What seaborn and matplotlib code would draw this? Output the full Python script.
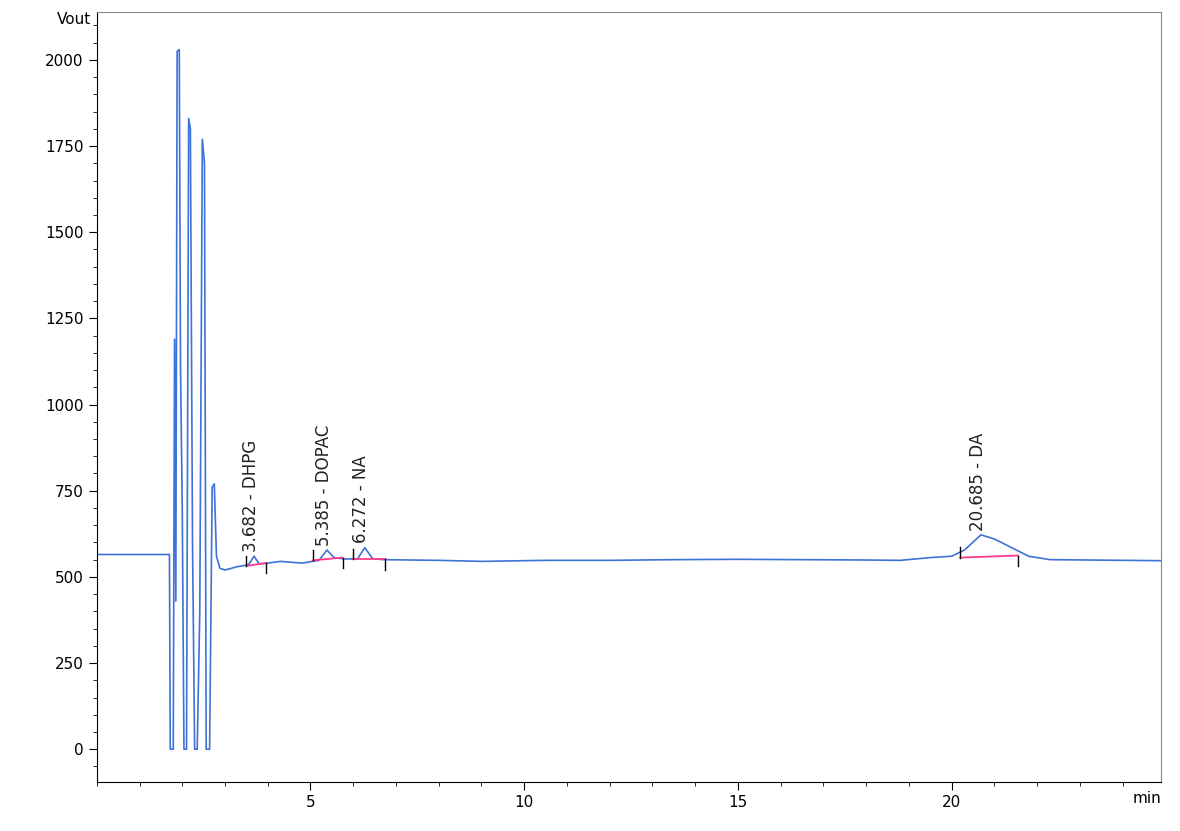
import matplotlib
matplotlib.use("Agg")
import matplotlib.pyplot as plt
import seaborn as sns
import pandas as pd
from matplotlib.ticker import MultipleLocator

# --- DATA ---
time_min = [0.0, 1.70, 1.72, 1.79, 1.82, 1.85, 1.88, 1.93, 1.96, 2.00, 2.04, 2.10,
            2.15, 2.19, 2.24, 2.29, 2.35, 2.41, 2.47, 2.52, 2.56, 2.64, 2.70, 2.75,
            2.80, 2.88, 3.00, 3.30, 3.55, 3.68, 3.80, 4.00, 4.30, 4.80, 5.20, 5.385,
            5.55, 5.80, 6.10, 6.272, 6.45, 6.70, 8.0, 9.0, 10.5, 12.0, 13.5, 15.0,
            16.5, 18.0, 18.8, 19.5, 20.0, 20.3, 20.685, 21.0, 21.4, 21.8, 22.3, 24.9]
signal = [565, 565, 0, 0, 1190, 430, 2025, 2030, 1100, 700, 0, 0,
          1830, 1800, 600, 0, 0, 400, 1770, 1700, 0, 0, 760, 770,
          560, 525, 520, 530, 535, 560, 538, 540, 545, 540, 548, 578,
          556, 552, 552, 585, 553, 550, 548, 545, 548, 548, 550, 551,
          550, 549, 548, 556, 560, 578, 622, 610, 585, 560, 550, 547]

peak_rt = [3.682, 5.385, 6.272, 20.685]
peak_name = ["DHPG", "DOPAC", "NA", "DA"]
peak_top = [560, 578, 585, 622]
base_start = [3.50, 5.05, 6.00, 20.20]
base_end = [3.95, 5.75, 6.75, 21.55]
base_lvl_start = [532, 548, 551, 556]
base_lvl_end = [540, 556, 551, 562]

df = pd.DataFrame({"min": time_min, "Vout": signal})

fig = plt.figure(figsize=(11.8, 8.31), dpi=100)
ax = fig.add_axes([0.082, 0.059, 0.902, 0.927])
sns.lineplot(data=df, x="min", y="Vout", ax=ax, color="#3d72d6", linewidth=1.2)

# integration baselines and markers
for i in range(len(peak_rt)):
    ax.plot([base_start[i], base_end[i]], [base_lvl_start[i], base_lvl_end[i]],
            color="#ff3a8c", linewidth=1.3)
    ax.plot([base_start[i]] * 2, [base_lvl_start[i], base_lvl_start[i] + 30], color="black", lw=1)
    ax.plot([base_end[i]] * 2, [base_lvl_end[i], base_lvl_end[i] - 30], color="black", lw=1)
    ax.text(peak_rt[i] - 0.08, peak_top[i] + 12, f"{peak_rt[i]:.3f} - {peak_name[i]}",
            rotation=90, ha="center", va="bottom", fontsize=12, color="#222222")

ax.set_xlim(0, 24.9)
ax.set_ylim(-95, 2140)
ax.set_xticks([5, 10, 15, 20])
ax.set_yticks(range(0, 2001, 250))
ax.xaxis.set_minor_locator(MultipleLocator(1))
ax.yaxis.set_minor_locator(MultipleLocator(50))
ax.tick_params(axis="both", which="major", length=6, labelsize=11)
ax.tick_params(axis="both", which="minor", length=3)
ax.set_xlabel("")
ax.set_ylabel("")
ax.text(-0.005, 1.0, "Vout", transform=ax.transAxes, ha="right", va="top", fontsize=11)
ax.text(1.0, -0.012, "min", transform=ax.transAxes, ha="right", va="top", fontsize=11)
for s in ["top", "right"]:
    ax.spines[s].set_color("#888888")

fig.savefig("out.png", dpi=100)
